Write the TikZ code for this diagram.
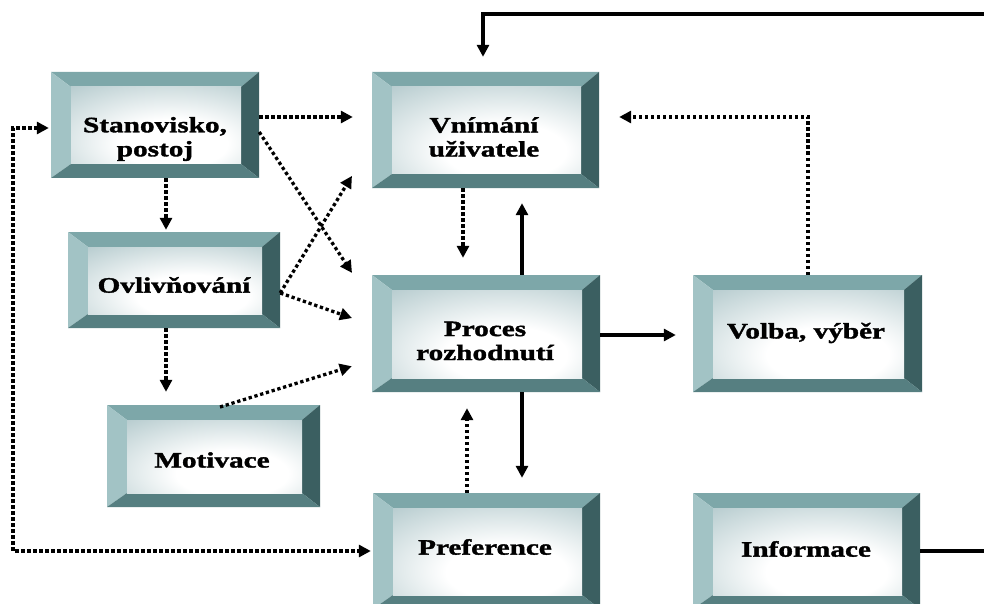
\documentclass[tikz,border=0pt]{standalone}
\usepackage{fontspec}
\setmainfont{Liberation Serif}
\newfontfamily\boxfont{Liberation Serif}[FakeStretch=1.33, BoldFeatures={FakeBold=1.6}]
\usetikzlibrary{arrows.meta,fit}

% bevel and face colours
\definecolor{bevtop}{HTML}{7DA7A9}
\definecolor{bevleft}{HTML}{A2C3C5}
\definecolor{bevright}{HTML}{3B5F61}
\definecolor{bevbot}{HTML}{567F81}
\definecolor{facegrey}{HTML}{B4CACD}
\definecolor{facedark}{HTML}{86A6AA}

% light spot on the face, slightly below and right of centre
\pgfdeclareradialshading{facelight}{\pgfpoint{6bp}{-14bp}}{%
  color(0bp)=(white); color(16bp)=(white); color(45bp)=(facegrey);
  color(70bp)=(facedark); color(100bp)=(facedark)}

% bevelled box: name, x1, y1, x2, y2 (top-left / bottom-right corners)
\newcommand{\bevelbox}[5]{%
  \fill[bevtop]   (#2,#3) -- (#4,#3) -- (#4-18,#3+15) -- (#2+20,#3+15) -- cycle;
  \fill[bevleft]  (#2,#3) -- (#2+20,#3+15) -- (#2+20,#5-14) -- (#2,#5) -- cycle;
  \fill[bevright] (#4,#3) -- (#4,#5) -- (#4-18,#5-14) -- (#4-18,#3+15) -- cycle;
  \fill[bevbot]   (#2,#5) -- (#2+20,#5-14) -- (#4-18,#5-14) -- (#4,#5) -- cycle;
  \shade[shading=facelight] (#2+20,#3+15) rectangle (#4-18,#5-14);
  \node[fit={(#2,#3) (#4,#5)}, inner sep=0pt] (#1) {};
}

\tikzset{
  >={Triangle[length=12pt,width=12pt]},
  boxtext/.style={font=\boxfont\bfseries\fontsize{22}{24}\selectfont,
                  align=center, inner sep=0pt},
  dotline/.style={line width=3.3pt, dash pattern=on 3.3pt off 2.7pt},
  solidline/.style={line width=3.2pt},
}

\begin{document}
\begin{tikzpicture}[x=1pt,y=-1pt]
\useasboundingbox (0,0) rectangle (984,604);
\clip (0,0) rectangle (984,604);

% boxes
\bevelbox{A}{51}{72}{259}{178}
\bevelbox{B}{372}{72}{599}{188}
\bevelbox{C}{68}{232}{280}{328}
\bevelbox{D}{107}{405}{320}{507}
\bevelbox{E}{372}{275}{600}{392}
\bevelbox{F}{693}{275}{922}{392}
\bevelbox{G}{373}{493}{600}{609}
\bevelbox{H}{693}{493}{920}{609}

% labels
\node[boxtext] (At) at (155,139) {Stanovisko,\\postoj};
\node[boxtext] (Bt) at (484,137) {Vnímání\\uživatele};
\node[boxtext] (Ct) at (174,285) {Ovlivňování};
\node[boxtext] (Dt) at (212,460) {Motivace};
\node[boxtext] (Et) at (485,341) {Proces\\rozhodnutí};
\node[boxtext] (Ft) at (806,333) {Volba, výběr};
\node[boxtext] (Gt) at (485,547) {Preference};
\node[boxtext] (Ht) at (806,549) {Informace};

% solid connectors
\coordinate (topturn) at (483,14);
\draw[solidline,->,shorten >=15pt] (H.east) -- (1010,551) |- (topturn) -- (topturn |- B.north);
\draw[solidline,->,shorten >=15pt] (522,0 |- E.north) -- (522,0 |- B.south);
\draw[solidline,->,shorten >=15pt] (522,0 |- E.south) -- (522,0 |- G.north);
\draw[solidline,->,shorten >=17pt] (E.east |- 0,335) -- (F.west |- 0,335);

% dotted connectors
\draw[dotline,->,shorten >=19pt] (A.east |- 0,117) -- (B.west |- 0,117);
\draw[dotline,->,shorten >=36pt] (A.east |- 0,132) -- (E.west |- 0,303);
\draw[dotline,->,shorten >=38pt] (C.east |- 0,293) -- (B.west |- 0,143.5);
\draw[dotline,->,shorten >=21pt] (C.east |- 0,293) -- (E.west |- 0,325);
\draw[dotline,->,shorten >=21pt] (220,407) -- (E.west |- 0,360);
\draw[dotline,->,shorten >=2pt]  (166,0 |- A.south) -- (166,0 |- C.north);
\draw[dotline,->,shorten >=13pt] (166,0 |- C.south) -- (166,0 |- D.north);
\draw[dotline,->,shorten >=17pt] (463,0 |- B.south) -- (463,0 |- E.north);
\draw[dotline,->,shorten >=16pt] (467,0 |- G.north) -- (467,0 |- E.south);
\draw[dotline,->,shorten >=20pt] (808,0 |- F.north) |- (B.east |- 0,117);
\draw[dotline,<->,shorten <=2pt,shorten >=2pt] (A.west |- 0,128) -| (13,551) -- (G.west |- 0,551);
\end{tikzpicture}
\end{document}
